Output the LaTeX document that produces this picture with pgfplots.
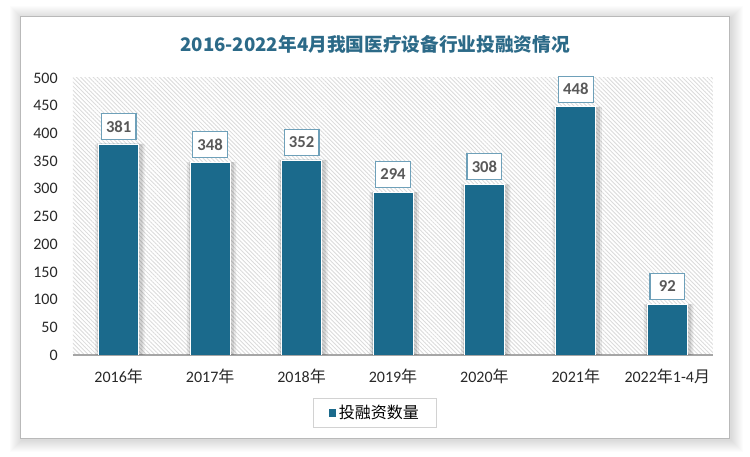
\documentclass[border=0pt]{standalone}
\usepackage{pgfplots}
\pgfplotsset{compat=1.18}
\usetikzlibrary{patterns.meta}
\usepackage{fontspec}
\setmainfont{Carlito}
\newfontfamily\cjk{Noto Sans CJK SC}
\definecolor{barblue}{RGB}{27,106,140}
\definecolor{titleblue}{RGB}{44,106,136}
\definecolor{labelgray}{RGB}{89,89,89}
\definecolor{labelborder}{RGB}{110,160,185}
\definecolor{tickgray}{RGB}{40,40,40}
\pgfplotstableread{
x y
0 381
1 348
2 352
3 294
4 308
5 448
6 92
}\datatable
\begin{document}
\begin{tikzpicture}[x=0.75pt,y=0.75pt]
\fill[white] (0,0) rectangle (750,457);
\useasboundingbox (0,0) rectangle (750,457);
\foreach \i in {1,...,12} \fill[black,opacity=0.012] ({20-\i+2},{18-\i-1}) rectangle ({729+\i+2},{440+\i-1});
\fill[white] (20,18) rectangle (729,440);
\draw[gray!55, line width=0.75pt] (20,18) rectangle (729,440);
\node[font=\cjk\bfseries\fontsize{14}{16}\selectfont, text=titleblue] at (375,413) {2016-2022年4月我国医疗设备行业投融资情况};
\begin{axis}[
  at={(54.75pt,76.5pt)}, anchor=south west,
  width=480pt, height=207.75pt, scale only axis,
  xmin=-0.5, xmax=6.5, ymin=0, ymax=500,
  enlargelimits=false,
  ytick={0,50,...,500},
  xtick={0,...,6},
  xticklabels={{2016{\cjk 年}},{2017{\cjk 年}},{2018{\cjk 年}},{2019{\cjk 年}},{2020{\cjk 年}},{2021{\cjk 年}},{2022{\cjk 年}1-4{\cjk 月}}},
  ybar, bar width=30pt,
  axis x line=bottom, axis y line=left, axis line style={-},
  y axis line style={draw=none},
  x axis line style={draw=gray!70, line width=0.9pt},
  major tick length=0pt,
  tick label style={font=\fontsize{12}{14}\selectfont, text=tickgray},
  /pgf/number format/assume math mode=true,
  yticklabel style={xshift=-8pt},
  xticklabel style={yshift=-7pt},
  axis background/.style={pattern={Lines[angle=-45,distance=2.2pt,line width=0.65pt]}, pattern color=gray!28},
  legend style={at={(0.472,-0.209)}, anchor=center, draw=gray!35, line width=0.75pt, font=\cjk\fontsize{12}{14}\selectfont, inner xsep=11pt, inner ysep=3pt},
  legend image code/.code={\fill[barblue] (0pt,-2.6pt) rectangle (5.2pt,2.6pt);},
]
\addplot[forget plot, fill=black, fill opacity=0.10, draw=none, bar width=34pt, bar shift=1pt] table[x=x,y=y] {\datatable};
\addplot[forget plot, fill=black, fill opacity=0.08, draw=none, bar width=37pt, bar shift=1pt] table[x=x,y=y] {\datatable};
\addplot[fill=barblue, draw=white, line width=0.6pt, bar shift=0pt,
  nodes near coords,
  nodes near coords style={font=\bfseries\fontsize{12.5}{14}\selectfont, text=labelgray, fill=white, draw=labelborder, line width=0.9pt, minimum width=26pt, minimum height=19.5pt, inner sep=1pt, anchor=south, yshift=3pt}] table[x=x,y=y] {\datatable};
\addlegendentry{投融资数量}
\end{axis}
\end{tikzpicture}
\end{document}
